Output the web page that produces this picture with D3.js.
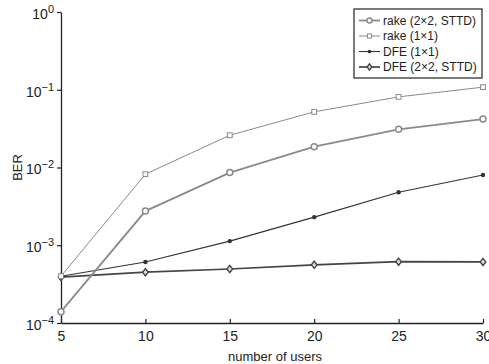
<!DOCTYPE html>
<html>
<head>
<meta charset="utf-8">
<script src="https://cdn.jsdelivr.net/npm/d3@7"></script>
<style>
  body { margin: 0; background: #fff; }
  svg text { font-family: "Liberation Sans", Arial, sans-serif; fill: #222; }
</style>
</head>
<body>
<div id="chart"></div>
<script>
// number of users
const users = [5, 10, 15, 20, 25, 30];
// BER values
const rake2x2 = [1.4e-4, 2.75e-3, 8.6e-3, 1.85e-2, 3.1e-2, 4.2e-2];
const rake1x1 = [4.0e-4, 8.2e-3, 2.6e-2, 5.2e-2, 8.1e-2, 1.08e-1];
const dfe1x1  = [4.0e-4, 6.1e-4, 1.13e-3, 2.3e-3, 4.8e-3, 8.0e-3];
const dfe2x2  = [3.9e-4, 4.5e-4, 4.95e-4, 5.6e-4, 6.15e-4, 6.1e-4];
const xTicks = [5, 10, 15, 20, 25, 30];
const yTicks = [1e-4, 1e-3, 1e-2, 1e-1, 1e0];

const seriesList = [
  { name: 'rake (2\u00d72, STTD)', values: rake2x2, color: '#8a8a8a', width: 1.8, marker: 'circle' },
  { name: 'rake (1\u00d71)', values: rake1x1, color: '#8a8a8a', width: 1, marker: 'square' },
  { name: 'DFE (1\u00d71)', values: dfe1x1, color: '#333', width: 1.1, marker: 'dot' },
  { name: 'DFE (2\u00d72, STTD)', values: dfe2x2, color: '#444', width: 1.7, marker: 'diamond' }
];

const W = 489, H = 364;
const margin = { top: 12, right: 6, bottom: 41, left: 61 };

const svg = d3.select('#chart').append('svg')
  .attr('width', W).attr('height', H);

const x = d3.scaleLinear().domain([5, 30]).range([margin.left, W - margin.right]);
const y = d3.scaleLog().domain([1e-4, 1]).range([H - margin.bottom, margin.top]);

// x axis, ticks pointing inward
const xAxis = svg.append('g')
  .attr('transform', `translate(0,${H - margin.bottom})`)
  .call(d3.axisBottom(x).tickValues(xTicks).tickSize(-4).tickPadding(8).tickSizeOuter(0));
xAxis.select('.domain').attr('stroke', '#222').attr('stroke-width', 1.3);
xAxis.selectAll('.tick line').attr('stroke', '#222').attr('stroke-width', 1.2);
xAxis.selectAll('.tick text').attr('font-size', 14).attr('fill', '#222')
  .style('font-family', '"Liberation Sans", Arial, sans-serif');

// y axis with superscript labels
const yAxis = svg.append('g')
  .attr('transform', `translate(${margin.left},0)`)
  .call(d3.axisLeft(y).tickValues(yTicks).tickSize(4).tickPadding(3).tickSizeOuter(0).tickFormat(() => ''));
yAxis.select('.domain').attr('stroke', '#222').attr('stroke-width', 1.3);
yAxis.selectAll('.tick line').attr('stroke', '#222').attr('stroke-width', 1.2);
yAxis.selectAll('.tick text').each(function(d) {
  const t = d3.select(this).attr('font-size', 14).attr('fill', '#222')
    .style('font-family', '"Liberation Sans", Arial, sans-serif')
    .attr('dy', '0.45em');
  const e = Math.round(Math.log10(d));
  t.append('tspan').text('10');
  t.append('tspan').attr('font-size', 11).attr('dy', '-0.55em')
    .text(e === 0 ? '0' : '\u2212' + Math.abs(e));
});

// axis titles
svg.append('text')
  .attr('x', (x(5) + x(30)) / 2 + 3).attr('y', H - 3)
  .attr('text-anchor', 'middle').attr('font-size', 13)
  .text('number of users');
svg.append('text')
  .attr('transform', `translate(22,${(y(1e-4) + y(1)) / 2}) rotate(-90)`)
  .attr('text-anchor', 'middle').attr('font-size', 13)
  .text('BER');

function drawMarker(g, s, cx, cy, k) {
  k = k || 1;
  if (s.marker === 'circle') {
    g.append('circle').attr('cx', cx).attr('cy', cy).attr('r', 3 * k)
      .attr('fill', '#fff').attr('stroke', s.color).attr('stroke-width', 1.5);
  } else if (s.marker === 'square') {
    const h = 2.4 * k;
    g.append('rect').attr('x', cx - h).attr('y', cy - h).attr('width', 2 * h).attr('height', 2 * h)
      .attr('fill', '#fff').attr('stroke', s.color).attr('stroke-width', 1);
  } else if (s.marker === 'dot') {
    g.append('circle').attr('cx', cx).attr('cy', cy).attr('r', 2.2 * k)
      .attr('fill', s.color).attr('stroke', 'none');
  } else {
    const a = 3.6 * k, b = 2.8 * k;
    g.append('path')
      .attr('d', `M${cx},${cy - a}L${cx + b},${cy}L${cx},${cy + a}L${cx - b},${cy}Z`)
      .attr('fill', '#ddd').attr('stroke', s.color).attr('stroke-width', 1.4);
  }
}

const line = d3.line().x((d, i) => x(users[i])).y(d => y(d));

// draw back to front
[...seriesList].reverse().forEach(s => {
  const g = svg.append('g');
  g.append('path').datum(s.values)
    .attr('d', line).attr('fill', 'none')
    .attr('stroke', s.color).attr('stroke-width', s.width);
  s.values.forEach((v, i) => drawMarker(g, s, x(users[i]), y(v)));
});

// legend
const lg = svg.append('g').attr('transform', 'translate(354,9)');
lg.append('rect').attr('x', 0).attr('y', 0).attr('width', 128).attr('height', 69)
  .attr('fill', '#fff').attr('stroke', '#222').attr('stroke-width', 1.2);
seriesList.forEach((s, i) => {
  const ry = 11.5 + i * 15.5;
  const g = lg.append('g');
  g.append('line').attr('x1', 5).attr('x2', 26).attr('y1', ry).attr('y2', ry)
    .attr('stroke', s.color).attr('stroke-width', s.width);
  drawMarker(g, s, 15.5, ry, 0.85);
  g.append('text').attr('x', 29).attr('y', ry).attr('dy', '0.35em')
    .attr('font-size', 12).text(s.name);
});
</script>
</body>
</html>
